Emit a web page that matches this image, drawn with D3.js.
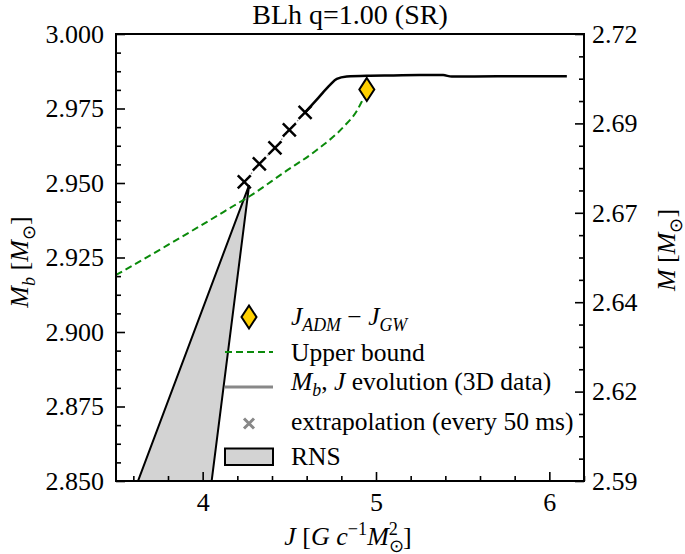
<!DOCTYPE html>
<html><head><meta charset="utf-8">
<script src="https://cdn.jsdelivr.net/npm/d3@7"></script>
<style>
body{margin:0;background:#fff}
svg{display:block}
text{font-family:"Liberation Serif","Times New Roman",serif;fill:#000}
</style>
</head><body>
<svg id="c" width="685" height="554"></svg>
<script>
// ---------------- data ----------------
const evolJ  = [4.591, 4.666, 4.735, 4.774, 4.831, 4.947, 5.100, 5.250, 5.387, 5.437, 5.700, 6.101];
const evolMb = [2.9737, 2.9785, 2.9829, 2.9849, 2.9857, 2.9860, 2.9861, 2.9862, 2.9862, 2.9857, 2.9858, 2.9858];

const extrapJ  = [4.240, 4.327, 4.417, 4.500, 4.591];
const extrapMb = [2.9504, 2.9564, 2.9618, 2.9678, 2.9737];

const boundJ  = [3.500, 3.7925, 3.985, 4.177, 4.273, 4.465, 4.658, 4.812, 4.889, 4.927, 4.943];
const boundMb = [2.91913, 2.92896, 2.93557, 2.94228, 2.94564, 2.95336, 2.96107, 2.96879, 2.97416, 2.97836, 2.98020];

const jadmJ  = [4.947];
const jadmMb = [2.9814];

const rnsJ  = [3.5625, 4.268, 4.030];
const rnsMb = [2.84, 2.9493, 2.84];

const xTicks = [4, 5, 6];
const xMinor = [3.6, 3.8, 4.2, 4.4, 4.6, 4.8, 5.2, 5.4, 5.6, 5.8, 6.2];
const yLeftTicks = [2.850, 2.875, 2.900, 2.925, 2.950, 2.975, 3.000];
const yRightTicks = [2.590, 2.616, 2.642, 2.668, 2.694, 2.720];
const yRightLabels = ["2.59", "2.62", "2.64", "2.67", "2.69", "2.72"];

const titleText = "BLh q=1.00 (SR)";
const legendLabels = ["Upper bound", "extrapolation (every 50 ms)", "RNS"];

// ---------------- layout ----------------
const L = 116, R = 584, T = 34, B = 481;
const svg = d3.select("#c");
const x = d3.scaleLinear().domain([3.5, 6.2]).range([L, R]);
const yL = d3.scaleLinear().domain([2.85, 3.0]).range([B, T]);
const yR = d3.scaleLinear().domain([2.59, 2.72]).range([B, T]);

svg.append("defs").append("clipPath").attr("id", "clip")
  .append("rect").attr("x", L).attr("y", T).attr("width", R - L).attr("height", B - T);

const plot = svg.append("g").attr("clip-path", "url(#clip)");

// RNS polygon
plot.append("path")
  .datum(rnsJ.map((j, i) => [j, rnsMb[i]]))
  .attr("d", d => "M" + d.map(p => [x(p[0]), yL(p[1])].join(",")).join("L") + "Z")
  .attr("fill", "#d3d3d3").attr("stroke", "#000").attr("stroke-width", 2).attr("stroke-linejoin", "miter");

// upper bound
const line = d3.line().x(d => x(d[0])).y(d => yL(d[1])).curve(d3.curveMonotoneX);
plot.append("path")
  .datum(boundJ.map((j, i) => [j, boundMb[i]]))
  .attr("d", line).attr("fill", "none")
  .attr("stroke", "#0a8a0a").attr("stroke-width", 2).attr("stroke-dasharray", "7,4");

// extrapolation dotted line
plot.append("path")
  .datum(extrapJ.map((j, i) => [j, extrapMb[i]]))
  .attr("d", d3.line().x(d => x(d[0])).y(d => yL(d[1])))
  .attr("fill", "none").attr("stroke", "#888").attr("stroke-width", 1.2).attr("stroke-dasharray", "1.5,2");

// evolution line
plot.append("path")
  .datum(evolJ.map((j, i) => [j, evolMb[i]]))
  .attr("d", line).attr("fill", "none")
  .attr("stroke", "#000").attr("stroke-width", 2.5).attr("stroke-linejoin", "round");

// crosses
const crossPath = s => `M${-s},${-s}L${s},${s}M${-s},${s}L${s},${-s}`;
plot.selectAll(".cross").data(extrapJ.map((j, i) => [j, extrapMb[i]])).enter()
  .append("path").attr("class", "cross")
  .attr("transform", d => `translate(${x(d[0])},${yL(d[1])})`)
  .attr("d", crossPath(6.5)).attr("stroke", "#000").attr("stroke-width", 2.5).attr("fill", "none");

// diamond
const diamondPath = (w, h) => `M0,${-h}L${w},0L0,${h}L${-w},0Z`;
plot.selectAll(".dia").data(jadmJ.map((j, i) => [j, jadmMb[i]])).enter()
  .append("path").attr("class", "dia")
  .attr("transform", d => `translate(${x(d[0])},${yL(d[1])})`)
  .attr("d", diamondPath(7.5, 11.5)).attr("fill", "#FFD000").attr("stroke", "#000").attr("stroke-width", 2);

// ---------------- axes ----------------
function styleAxis(g) {
  g.select(".domain").remove();
  g.selectAll(".tick line").attr("stroke", "#000").attr("stroke-width", 1.6);
  g.selectAll(".tick text").attr("font-size", 26).attr("font-family", "Liberation Serif").attr("fill", "#000");
}
svg.append("g").attr("transform", `translate(0,${B})`)
  .call(d3.axisBottom(x).tickValues(xTicks).tickSize(-9).tickPadding(12).tickFormat(d3.format("d"))).call(styleAxis);
svg.append("g").attr("transform", `translate(0,${B})`)
  .call(d3.axisBottom(x).tickValues(xMinor).tickSize(-5).tickFormat("")).call(styleAxis);

svg.append("g").attr("transform", `translate(${L},0)`)
  .call(d3.axisLeft(yL).tickValues(yLeftTicks).tickSize(-9).tickPadding(12).tickFormat(d3.format(".3f"))).call(styleAxis);
svg.append("g").attr("transform", `translate(${L},0)`)
  .call(d3.axisLeft(yL).tickValues(d3.range(0, 25).map(i => 2.85 + i * 0.00625).filter((v, i) => i % 4 !== 0)).tickSize(-5).tickFormat("")).call(styleAxis);

svg.append("g").attr("transform", `translate(${R},0)`)
  .call(d3.axisRight(yR).tickValues(yRightTicks).tickSize(-9).tickPadding(8).tickFormat((d, i) => yRightLabels[i])).call(styleAxis);
svg.append("g").attr("transform", `translate(${R},0)`)
  .call(d3.axisRight(yR).tickValues(d3.range(0, 21).map(i => 2.59 + i * 0.0065).filter((v, i) => i % 4 !== 0)).tickSize(-5).tickFormat("")).call(styleAxis);

svg.append("rect").attr("x", L).attr("y", T).attr("width", R - L).attr("height", B - T)
  .attr("fill", "none").attr("stroke", "#000").attr("stroke-width", 2);

// ---------------- text helpers ----------------
function rich(sel, segs, size) {
  let cur = 0;
  segs.forEach(s => {
    const small = s.sub || s.sup;
    const fs = small ? size * 0.7 : size;
    const target = s.sub ? size * 0.25 : s.sup ? -size * 0.4 : 0;
    const ts = sel.append("tspan").text(s.t).attr("font-size", fs);
    if (target - cur !== 0) ts.attr("dy", target - cur);
    if (s.i) ts.attr("font-style", "italic");
    if (s.dxBack) {
      const prev = sel.selectAll("tspan").nodes();
      const w = prev[prev.length - 2].getComputedTextLength();
      ts.attr("dx", -w);
    }
    cur = target;
  });
  return sel;
}

// title
svg.append("text").attr("x", 350).attr("y", 24).attr("text-anchor", "middle")
  .attr("font-size", 28).text(titleText);

// axis labels
rich(svg.append("text").attr("text-anchor", "middle").attr("font-size", 26)
  .attr("transform", "translate(28,262) rotate(-90)"),
  [{t: "M", i: true}, {t: "b", i: true, sub: true}, {t: " ["}, {t: "M", i: true}, {t: "\u2299", sub: true}, {t: "]"}], 26);

rich(svg.append("text").attr("text-anchor", "middle").attr("font-size", 26)
  .attr("transform", "translate(675,250) rotate(-90)"),
  [{t: "M", i: true}, {t: " ["}, {t: "M", i: true}, {t: "\u2299", sub: true}, {t: "]"}], 26);

rich(svg.append("text").attr("x", 348).attr("y", 545).attr("text-anchor", "middle").attr("font-size", 26),
  [{t: "J", i: true}, {t: " ["}, {t: "G", i: true}, {t: " "}, {t: "c", i: true}, {t: "\u22121", sup: true},
   {t: "M", i: true}, {t: "\u2299", sub: true}, {t: "2", sup: true, dxBack: true}, {t: "\u2009]"}], 26);

// ---------------- legend ----------------
const lg = svg.append("g");
const tx = 291, lfs = 25.5;
// row 1 diamond
lg.append("path").attr("transform", "translate(249,317)").attr("d", diamondPath(7.5, 11.5))
  .attr("fill", "#FFD000").attr("stroke", "#000").attr("stroke-width", 2);
rich(lg.append("text").attr("x", tx).attr("y", 325).attr("font-size", lfs),
  [{t: "J", i: true}, {t: "ADM", i: true, sub: true}, {t: " \u2212 "}, {t: "J", i: true}, {t: "GW", i: true, sub: true}], lfs);
// row 2 green dashed
lg.append("line").attr("x1", 225).attr("x2", 273).attr("y1", 352).attr("y2", 352)
  .attr("stroke", "#0a8a0a").attr("stroke-width", 2).attr("stroke-dasharray", "7,4");
lg.append("text").attr("x", tx).attr("y", 360.5).attr("font-size", lfs).text(legendLabels[0]);
// row 3 grey line
lg.append("line").attr("x1", 225).attr("x2", 273).attr("y1", 387).attr("y2", 387)
  .attr("stroke", "#888").attr("stroke-width", 3);
rich(lg.append("text").attr("x", tx).attr("y", 390).attr("font-size", lfs),
  [{t: "M", i: true}, {t: "b", i: true, sub: true}, {t: ", "}, {t: "J", i: true}, {t: " evolution (3D data)"}], lfs);
// row 4 grey x
lg.append("path").attr("transform", "translate(249,423.5)").attr("d", crossPath(5))
  .attr("stroke", "#888").attr("stroke-width", 3).attr("fill", "none");
lg.append("text").attr("x", tx).attr("y", 430).attr("font-size", lfs).text(legendLabels[1]);
// row 5 rect
lg.append("rect").attr("x", 225).attr("y", 448.5).attr("width", 48).attr("height", 16.5)
  .attr("fill", "#d3d3d3").attr("stroke", "#000").attr("stroke-width", 2);
lg.append("text").attr("x", tx).attr("y", 465).attr("font-size", lfs).text(legendLabels[2]);
</script>
</body></html>
